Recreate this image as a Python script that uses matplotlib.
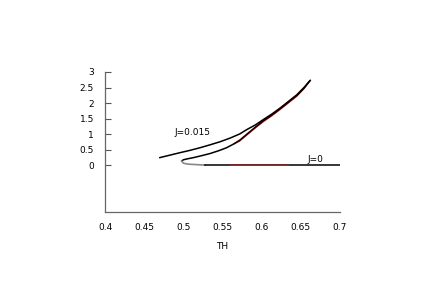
import matplotlib
matplotlib.use("Agg")
import matplotlib.pyplot as plt

# J=0.015 branch
th_j015 = [0.470, 0.483, 0.496, 0.508, 0.521, 0.534, 0.547, 0.560, 0.572, 0.581,
           0.592, 0.602, 0.613, 0.6235, 0.634, 0.645, 0.654, 0.662]
r_j015 = [0.25, 0.33, 0.41, 0.48, 0.565, 0.66, 0.76, 0.88, 1.01, 1.15,
          1.30, 1.47, 1.65, 1.84, 2.05, 2.27, 2.50, 2.73]

# J=0 upper branch (starts at the turning point)
th_j0_up = [0.498, 0.500, 0.505, 0.513, 0.523, 0.534, 0.545, 0.555, 0.563, 0.572,
            0.581, 0.592, 0.602, 0.613, 0.6235, 0.634, 0.645, 0.654, 0.661]
r_j0_up = [0.14, 0.18, 0.21, 0.25, 0.31, 0.38, 0.47, 0.565, 0.67, 0.81,
           1.00, 1.23, 1.43, 1.62, 1.82, 2.03, 2.25, 2.48, 2.70]

# J=0 lower branch
th_j0_low = [0.498, 0.500, 0.506, 0.513, 0.520, 0.528]
r_j0_low = [0.14, 0.07, 0.04, 0.03, 0.02, 0.01]
th_j0_flat = [0.528, 0.560, 0.600, 0.634, 0.660, 0.700]
r_j0_flat = [0.0, 0.0, 0.0, 0.0, 0.0, 0.0]

# red (unstable) pieces
th_red_up = [0.565, 0.572, 0.581, 0.592, 0.602, 0.613, 0.6235, 0.634, 0.645, 0.654, 0.662]
r_red_up = [0.69, 0.78, 0.97, 1.20, 1.40, 1.59, 1.79, 2.00, 2.22, 2.46, 2.73]
th_red_low = [0.560, 0.634]
r_red_low = [0.0, 0.0]

plt.rcParams['font.family'] = 'DejaVu Sans'
fig = plt.figure(figsize=(4.45, 2.95), dpi=100)
ax = fig.add_axes([0.236, 0.281, 0.528, 0.475])

ax.plot(th_red_up, r_red_up, color='red', lw=0.8)
ax.plot(th_j015, r_j015, color='black', lw=1.1)
ax.plot(th_j0_up, r_j0_up, color='black', lw=1.1)
ax.plot(th_j0_low, r_j0_low, color='#888888', lw=1.2)
ax.plot(th_j0_flat, r_j0_flat, color='black', lw=1.1)
ax.plot(th_red_low, r_red_low, color='#bb2222', lw=0.7)

ax.text(0.489, 1.06, 'J=0.015', fontsize=6.5, va='center', ha='left')
ax.text(0.659, 0.19, 'J=0', fontsize=6.5, va='center', ha='left')

ax.set_xlim(0.4, 0.7)
ax.set_ylim(-1.5, 3)
ax.set_xticks([0.4, 0.45, 0.5, 0.55, 0.6, 0.65, 0.7])
ax.set_xticklabels(['0.4', '0.45', '0.5', '0.55', '0.6', '0.65', '0.7'])
ax.set_yticks([0, 0.5, 1, 1.5, 2, 2.5, 3])
ax.set_yticklabels(['0', '0.5', '1', '1.5', '2', '2.5', '3'])
ax.tick_params(axis='x', length=0, labelsize=6.5, pad=8)
ax.tick_params(axis='y', direction='in', length=4, width=0.8, color='#555555',
               labelsize=6.5, pad=8)
for s in ['top', 'right']:
    ax.spines[s].set_visible(False)
for s in ['left', 'bottom']:
    ax.spines[s].set_color('#666666')
    ax.spines[s].set_linewidth(0.9)
ax.set_xlabel('TH', fontsize=6.5, labelpad=7)

fig.savefig('out.png', dpi=100)
